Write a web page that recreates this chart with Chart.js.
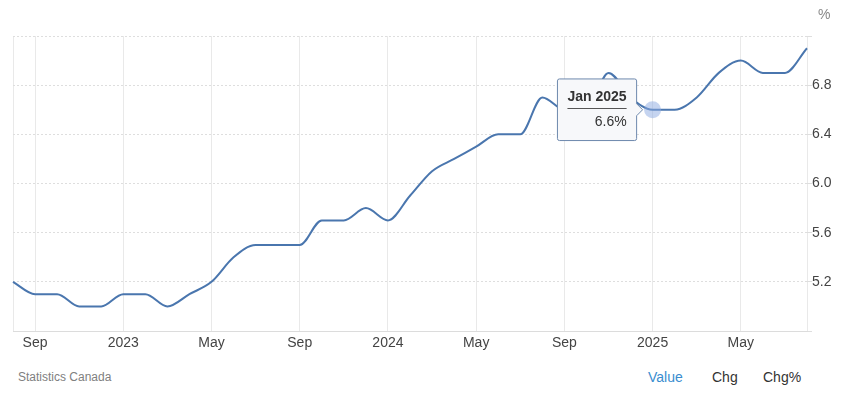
<!DOCTYPE html>
<html>
<head>
<meta charset="utf-8">
<script src="https://cdn.jsdelivr.net/npm/chart.js@4.4.1/dist/chart.umd.min.js"></script>
<style>
    body { margin: 0; background: #fff; font-family: "Liberation Sans", Arial, sans-serif; }
    #wrap { position: relative; width: 845px; height: 396px; }
    #box { position: absolute; left: 0; top: 0; width: 845px; height: 355px; }
    .txt { position: absolute; white-space: nowrap; }
</style>
</head>
<body>
<div id="wrap">
    <div id="box"><canvas id="lineChart"></canvas></div>
    <div class="txt" style="left:818px; top:6px; font-size:14px; color:#888;">%</div>
    <div class="txt" style="left:18px; top:370px; font-size:12px; color:#808080;">Statistics Canada</div>
    <div class="txt" style="left:648px; top:369px; font-size:14px; color:#3a8dcf;">Value</div>
    <div class="txt" style="left:712px; top:369px; font-size:14px; color:#333;">Chg</div>
    <div class="txt" style="left:763px; top:369px; font-size:14px; color:#333;">Chg%</div>
</div>
<script>
const months = [
    "Aug 2022", "Sep 2022", "Oct 2022", "Nov 2022", "Dec 2022",
    "Jan 2023", "Feb 2023", "Mar 2023", "Apr 2023", "May 2023", "Jun 2023",
    "Jul 2023", "Aug 2023", "Sep 2023", "Oct 2023", "Nov 2023", "Dec 2023",
    "Jan 2024", "Feb 2024", "Mar 2024", "Apr 2024", "May 2024", "Jun 2024",
    "Jul 2024", "Aug 2024", "Sep 2024", "Oct 2024", "Nov 2024", "Dec 2024",
    "Jan 2025", "Feb 2025", "Mar 2025", "Apr 2025", "May 2025", "Jun 2025",
    "Jul 2025", "Aug 2025",
];
const rates = [
    5.2, 5.1, 5.1, 5.0, 5.0,
    5.1, 5.1, 5.0, 5.1, 5.2, 5.4,
    5.5, 5.5, 5.5, 5.7, 5.7, 5.8,
    5.7, 5.9, 6.1, 6.2, 6.3, 6.4,
    6.4, 6.7, 6.6, 6.6, 6.9, 6.7,
    6.6, 6.6, 6.7, 6.9, 7.0, 6.9,
    6.9, 7.1,
];
const yTicks = [5.2, 5.6, 6.0, 6.4, 6.8];
const activeIndex = 29;

const font = "'Liberation Sans', Arial, sans-serif";

// line under the tooltip title
const titleRule = {
    id: "titleRule",
    afterTooltipDraw(chart, args) {
        const tt = args.tooltip;
        if (!tt.opacity) return;
        const c = chart.ctx;
        const y = Math.round(tt.y + 10 + 16.8 + 2) + 0.5;
        c.save();
        c.strokeStyle = "#555";
        c.lineWidth = 1;
        c.beginPath();
        c.moveTo(tt.x + 10, y);
        c.lineTo(tt.x + tt.width - 10, y);
        c.stroke();
        c.restore();
    },
};

const config = {
    type: "line",
    data: {
        labels: months,
        datasets: [
            {
                label: "Unemployment rate",
                data: rates,
                borderColor: "#4a76ae",
                borderWidth: 2,
                cubicInterpolationMode: "monotone",
                pointRadius: 0,
                pointHoverRadius: 8.5,
                pointHoverBorderWidth: 0,
                pointHoverBackgroundColor: "rgba(140,170,225,0.5)",
                fill: false,
            },
        ],
    },
    options: {
        responsive: true,
        maintainAspectRatio: false,
        animation: false,
        events: [],
        layout: { padding: { left: 13, top: 36, right: 0, bottom: 0 } },
        plugins: {
            legend: { display: false },
            tooltip: {
                enabled: true,
                xAlign: "right",
                yAlign: "center",
                caretSize: 6,
                caretPadding: 10,
                cornerRadius: 2,
                padding: 10,
                backgroundColor: "#f7f8fa",
                borderColor: "#6d88ad",
                borderWidth: 1,
                titleColor: "#333",
                titleFont: { family: font, size: 14, weight: "bold" },
                titleAlign: "center",
                titleMarginBottom: 8,
                bodyColor: "#333",
                bodyFont: { family: font, size: 14 },
                bodyAlign: "right",
                displayColors: false,
                callbacks: {
                    title: (items) => items[0].label,
                    label: (item) => item.parsed.y.toFixed(1) + "%",
                },
            },
        },
        scales: {
            x: {
                type: "category",
                offset: false,
                grid: { color: "#e9e9e9", drawTicks: false },
                border: { color: "#dcdcdc" },
                ticks: {
                    autoSkip: false,
                    maxRotation: 0,
                    padding: 4,
                    color: "#444",
                    font: { family: font, size: 14 },
                    callback(value, index) {
                        if (index === 0 || index === months.length - 1) return "";
                        const [m, y] = months[index].split(" ");
                        if (m === "Jan") return y;
                        if (m === "Sep" || m === "May") return m;
                        return null;
                    },
                },
                afterFit(scale) {
                    scale.height = 24;
                },
            },
            y: {
                position: "right",
                min: 4.8,
                max: 7.2,
                grid: { color: "#dedede", tickLength: 5 },
                border: { display: false, dash: [2, 2] },
                ticks: {
                    stepSize: 0.4,
                    padding: 0,
                    color: "#444",
                    font: { family: font, size: 14 },
                    callback(value) {
                        const hit = yTicks.find((t) => Math.abs(t - value) < 0.01);
                        return hit === undefined ? "" : hit.toFixed(1);
                    },
                },
                afterFit(scale) {
                    scale.width = 38;
                },
            },
        },
    },
    plugins: [titleRule],
};

const chart = new Chart(document.getElementById("lineChart"), config);
const active = [{ datasetIndex: 0, index: activeIndex }];
chart.setActiveElements(active);
chart.tooltip.setActiveElements(active, { x: 0, y: 0 });
chart.update("none");
</script>
</body>
</html>
